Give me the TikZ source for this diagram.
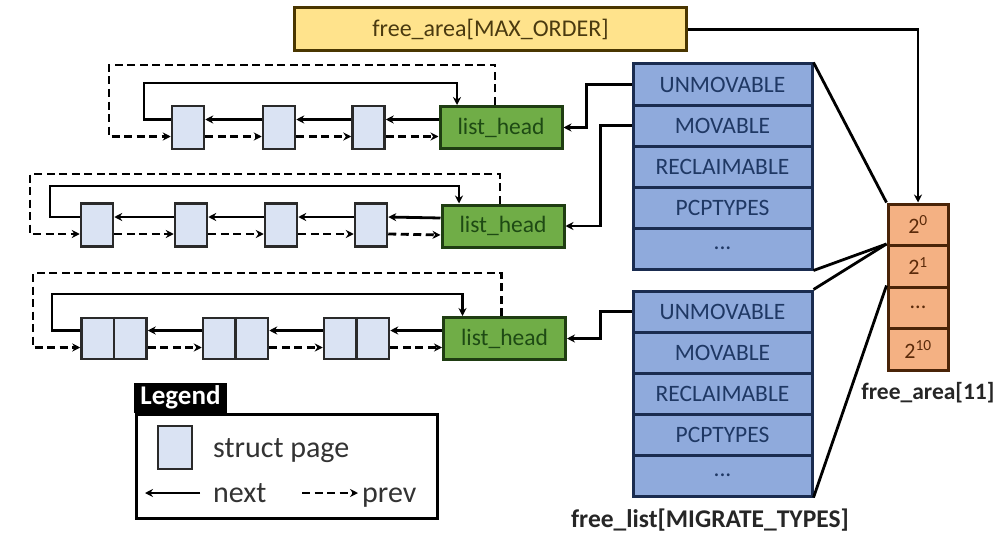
\documentclass[tikz,border=0pt]{standalone}
\usepackage{fontspec}
\setmainfont{Carlito}
\usetikzlibrary{arrows.meta}
\definecolor{yfill}{HTML}{FFE38C}
\definecolor{ybord}{HTML}{4A3600}
\definecolor{ytext}{HTML}{4A3A10}
\definecolor{bfill}{HTML}{8FAADC}
\definecolor{bbord}{HTML}{1A2C50}
\definecolor{btext}{HTML}{1F3864}
\definecolor{ofill}{HTML}{F4B183}
\definecolor{obord}{HTML}{4A2408}
\definecolor{otext}{HTML}{5A2A0A}
\definecolor{gfill}{HTML}{70AD47}
\definecolor{gbord}{HTML}{1F3D12}
\definecolor{gtext}{HTML}{1E4A14}
\definecolor{pfill}{HTML}{DAE3F3}
\definecolor{pbord}{HTML}{2A2A2A}
\begin{document}
\begin{tikzpicture}[x=1pt,y=-1pt,
  ybox/.style={draw=ybord, fill=yfill, line width=3pt, minimum width=392pt, minimum height=43pt, inner sep=0pt, text=ytext, font=\fontsize{24}{26}\selectfont},
  bcell/.style={draw=bbord, fill=bfill, line width=3pt, minimum width=179pt, minimum height=41pt, inner sep=0pt, text=btext, font=\fontsize{23.5}{25}\selectfont},
  ocell/.style={draw=obord, fill=ofill, line width=3pt, minimum width=60pt, minimum height=41.5pt, inner sep=0pt, text=otext, font=\fontsize{22}{24}\selectfont},
  lhead/.style={draw=gbord, fill=gfill, line width=3pt, minimum width=122pt, minimum height=42pt, inner sep=0pt, text=gtext, font=\fontsize{23.5}{25}\selectfont},
  pg/.style={draw=pbord, fill=pfill, line width=2.5pt, minimum width=32pt, minimum height=43pt, inner sep=0pt},
  dpg/.style={draw=pbord, fill=pfill, line width=2.5pt, minimum width=65pt, minimum height=41pt, inner sep=0pt},
  nxt/.style={draw=black, line width=2.8pt, -{Stealth[length=8pt,width=8pt]}},
  prv/.style={draw=black, line width=2.8pt, dash pattern=on 8pt off 4.5pt, -{Stealth[length=8pt,width=8pt]}},
  plain/.style={draw=black, line width=2.8pt},
  lbl/.style={text=black!85, inner sep=0pt},
  lgtext/.style={font=\fontsize{30}{32}\selectfont, text=black!80, inner sep=0pt, anchor=base west}
]
\useasboundingbox (0,0) rectangle (999,535);
\fill[white] (0,0) rectangle (999,535);

% top yellow box
\node[ybox] (top) at (490.5,29.5) {free\_area[MAX\_ORDER]};

% free_area cells
\node[ocell] (fa0) at (918,224.75) {2\textsuperscript{0}};
\node[ocell] (fa1) at (918,266.25) {2\textsuperscript{1}};
\node[ocell] (fa2) at (918,307.75) {...};
\node[ocell] (fa3) at (918,349.25) {2\textsuperscript{10}};
\node[lbl, font=\fontsize{23.5}{25}\selectfont\bfseries] (falbl) at (928,393) {free\_area[11]};

% free_list upper
\node[bcell] (fla) at (722.5,84.5) {UNMOVABLE};
\node[bcell] (flb) at (722.5,125.5) {MOVABLE};
\node[bcell] (flc) at (722.5,166.5) {RECLAIMABLE};
\node[bcell] (fld) at (722.5,207.5) {PCPTYPES};
\node[bcell] (fle) at (722.5,248.5) {...};
% free_list lower
\node[bcell] (gla) at (722.5,311.5) {UNMOVABLE};
\node[bcell] (glb) at (722.5,352.5) {MOVABLE};
\node[bcell] (glc) at (722.5,393.5) {RECLAIMABLE};
\node[bcell] (gld) at (722.5,434.5) {PCPTYPES};
\node[bcell] (gle) at (722.5,475.5) {...};
\node[lbl, font=\fontsize{25.5}{27}\selectfont\bfseries] (fllbl) at (710,520) {free\_list[MIGRATE\_TYPES]};

% connectors to free_area
\draw[nxt] (top.east) -| (fa0.north);
\draw[plain] (fla.north east) -- (fa0.north west);
\draw[plain] (fle.south east) -- (fa1.north west);
\draw[plain] (gla.north east) -- (fa1.north west);
\draw[plain] (gle.south east) -- (fa2.north west);

% list heads
\node[lhead] (lh1) at (501,127.5) {list\_head};
\node[lhead] (lh2) at (503,226) {list\_head};
\node[lhead] (lh3) at (504.5,338.5) {list\_head};

\draw[nxt] (fla.west) -| ([xshift=23pt]lh1.east) -- (lh1.east);
\draw[nxt] (flb.west) -| ([xshift=35pt]lh2.east) -- (lh2.east);
\draw[nxt] (gla.west) -| ([xshift=33.5pt]lh3.east) -- (lh3.east);

% row 1 pages
\node[pg] (p11) at (188,127.5) {};
\node[pg] (p12) at (279,127.5) {};
\node[pg] (p13) at (368.5,127.5) {};
\draw[nxt] ([yshift=8pt]lh1.west) -- ([yshift=8pt]p13.east);
\draw[nxt] ([yshift=8pt]p13.west) -- ([yshift=8pt]p12.east);
\draw[nxt] ([yshift=8pt]p12.west) -- ([yshift=8pt]p11.east);
\draw[prv] ([yshift=-9pt]p11.east) -- ([yshift=-9pt]p12.west);
\draw[prv] ([yshift=-9pt]p12.east) -- ([yshift=-9pt]p13.west);
\draw[prv] ([yshift=-9pt]p13.east) -- ([yshift=-9pt]lh1.west);
\draw[nxt] ([yshift=8pt]p11.west) -| (144,83) -| ([xshift=-44pt]lh1.north);
\draw[prv] ([xshift=-6pt]lh1.north) |- (109,65) |- ([yshift=-9pt]p11.west);

% row 2 pages
\node[pg] (p21) at (97,225) {};
\node[pg] (p22) at (191,225) {};
\node[pg] (p23) at (281,225) {};
\node[pg] (p24) at (371,225) {};
\draw[nxt] ([yshift=8pt]lh2.west) -- ([yshift=8pt]p24.east);
\draw[nxt] ([yshift=8pt]p24.west) -- ([yshift=8pt]p23.east);
\draw[nxt] ([yshift=8pt]p23.west) -- ([yshift=8pt]p22.east);
\draw[nxt] ([yshift=8pt]p22.west) -- ([yshift=8pt]p21.east);
\draw[prv] ([yshift=-9pt]p21.east) -- ([yshift=-9pt]p22.west);
\draw[prv] ([yshift=-9pt]p22.east) -- ([yshift=-9pt]p23.west);
\draw[prv] ([yshift=-9pt]p23.east) -- ([yshift=-9pt]p24.west);
\draw[prv] ([yshift=-9pt]p24.east) -- ([yshift=-9pt]lh2.west);
\draw[nxt] ([yshift=8pt]p21.west) -| (50,186) -| ([xshift=-44pt]lh2.north);
\draw[prv] ([xshift=-3pt]lh2.north) |- (30,174) |- ([yshift=-9pt]p21.west);

% row 3 double pages
\node[dpg] (p31) at (114,338.5) {};
\node[dpg] (p32) at (235.5,338.5) {};
\node[dpg] (p33) at (356.5,338.5) {};
\draw[line width=2.5pt, pbord] (p31.north) -- (p31.south);
\draw[line width=2.5pt, pbord] (p32.north) -- (p32.south);
\draw[line width=2.5pt, pbord] (p33.north) -- (p33.south);
\draw[nxt] ([yshift=8pt]lh3.west) -- ([yshift=8pt]p33.east);
\draw[nxt] ([yshift=8pt]p33.west) -- ([yshift=8pt]p32.east);
\draw[nxt] ([yshift=8pt]p32.west) -- ([yshift=8pt]p31.east);
\draw[prv] ([yshift=-9pt]p31.east) -- ([yshift=-9pt]p32.west);
\draw[prv] ([yshift=-9pt]p32.east) -- ([yshift=-9pt]p33.west);
\draw[prv] ([yshift=-9pt]p33.east) -- ([yshift=-9pt]lh3.west);
\draw[nxt] ([yshift=8pt]p31.west) -| (52,294) -| ([xshift=-42pt]lh3.north);
\draw[prv] ([xshift=-3pt]lh3.north) |- (33,273) |- ([yshift=-9pt]p31.west);

% legend
\node[draw=black, line width=2.5pt, minimum width=301pt, minimum height=104pt, inner sep=0pt, anchor=north west] (lgbox) at (135,413) {};
\node[fill=black, minimum width=93pt, minimum height=30pt, inner sep=0pt, anchor=south west, text=white, font=\fontsize{27}{28}\selectfont\bfseries] (lgtab) at ([xshift=-1.25pt]lgbox.north west) {Legend};
\node[pg, minimum width=34pt] (lgpg) at (175,447.5) {};
\node[lgtext] (lgsp) at (213,457) {struct page};
\coordinate (ln1) at (200,493);
\coordinate (ln2) at (145,493);
\draw[nxt] (ln1) -- (ln2);
\node[lgtext] (lgnext) at (213,502) {next};
\coordinate (lp1) at (302,493);
\coordinate (lp2) at (358,493);
\draw[prv] (lp1) -- (lp2);
\node[lgtext] (lgprev) at (362,502) {prev};
\end{tikzpicture}
\end{document}
